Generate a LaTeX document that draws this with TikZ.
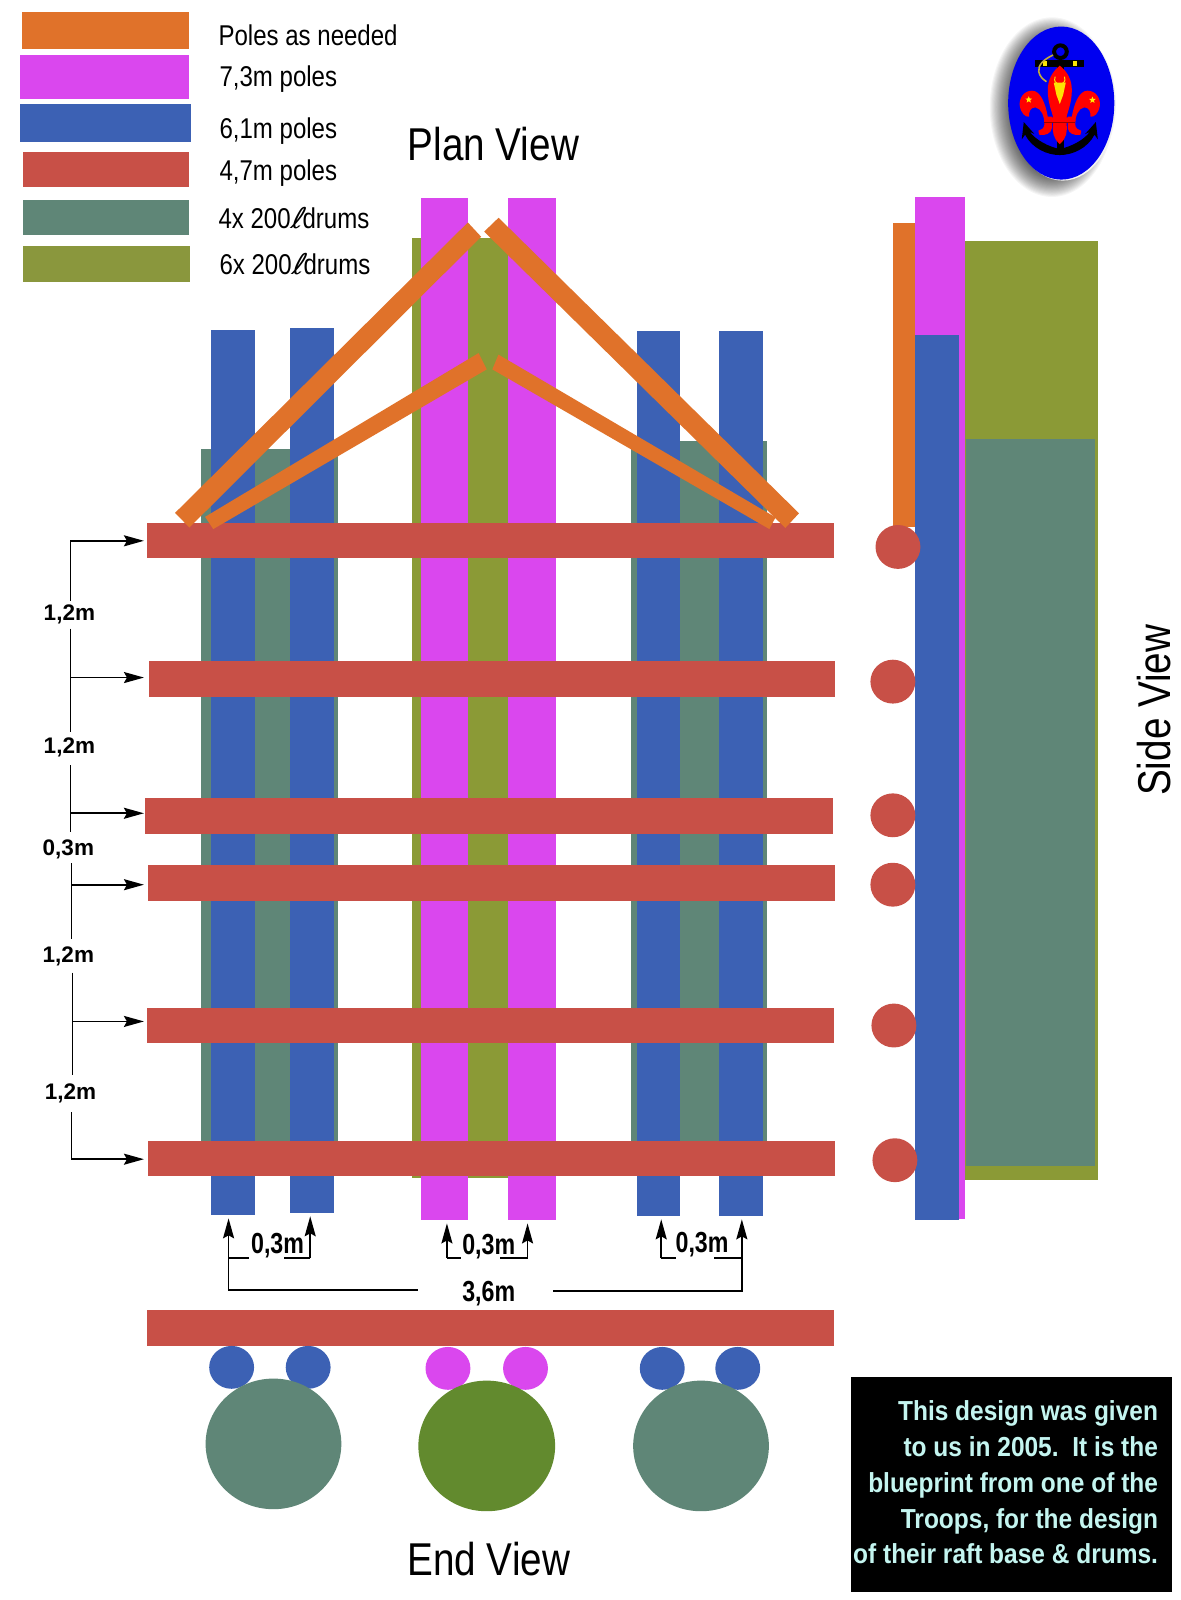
\documentclass[tikz,border=0pt]{standalone}
\usepackage{fontspec}
\usetikzlibrary{arrows.meta,shapes.geometric}
\setmainfont{Liberation Sans}
\newfontfamily\narrowf[FakeStretch=0.84]{Liberation Sans}
\newfontfamily\narrowb[FakeStretch=0.80,BoldFont={Liberation Sans Bold}]{Liberation Sans}
\newfontfamily\notef[FakeStretch=0.89,BoldFont={Liberation Sans Bold}]{Liberation Sans}
\newfontfamily\litref[FakeSlant=0.3,FakeStretch=1.0]{DejaVu Sans}
\definecolor{cor}{HTML}{E0722A}
\definecolor{cma}{HTML}{DA47EE}
\definecolor{cbl}{HTML}{3C61B4}
\definecolor{cre}{HTML}{C85047}
\definecolor{cte}{HTML}{5F8677}
\definecolor{col}{HTML}{8B9A36}
\definecolor{cgr}{HTML}{628A2E}
\definecolor{ccy}{HTML}{C4F5F0}
\newcommand\rectn[6]{%
  \pgfmathsetmacro\rw{(#5-#3)*1.02}\pgfmathsetmacro\rh{(#6-#4)*1.02}%
  \pgfmathsetmacro\rx{(#3+#5)/2}\pgfmathsetmacro\ry{(#4+#6)/2}%
  \node[polerect,fill=#2,minimum width=\rw pt,minimum height=\rh pt] (#1) at (\rx,\ry) {};}
\newcommand\ovaln[6]{\node[ovalshape,fill=#2,minimum width=#5*2.04pt,minimum height=#6*2.04pt] (#1) at (#3,#4) {};}
\newcommand\petal{(262,350) .. controls (255,310) and (240,272) .. (215,272) .. controls (190,272) and (175,295) .. (178,318) .. controls (182,340) and (195,352) .. (206,350) .. controls (205,335) and (210,322) .. (225,322) .. controls (243,325) and (252,350) .. (252,372) .. controls (252,385) and (242,390) .. (234,392) -- (236,404) .. controls (255,408) and (272,400) .. (274,385) -- (274,350) -- cycle}
\newcommand\halffleur{(298,197) .. controls (275,215) and (262,240) .. (262,270) .. controls (262,310) and (275,335) .. (278,352) -- (278,370) .. controls (275,395) and (278,415) .. (298,432) -- cycle}
\newcommand\halfanchor{(298,447) .. controls (265,440) and (225,420) .. (208,395) -- (222,402) -- (190,366) -- (184,418) -- (194,404) .. controls (215,445) and (260,465) .. (298,465) -- cycle}
\tikzset{
  polerect/.style={rectangle,draw=none,inner sep=0pt,outer sep=0pt},
  ovalshape/.style={ellipse,draw=none,inner sep=0pt,outer sep=0pt},
  legendtext/.style={font=\narrowf\fontsize{28.6}{30}\selectfont,anchor=base west,inner sep=0pt},
  titletext/.style={font=\narrowf\fontsize{46}{50}\selectfont,anchor=base,inner sep=0pt},
  sidelabel/.style={font=\fontseries{b}\fontsize{22.5}{24}\selectfont,inner sep=0pt},
  dimlabel/.style={font=\narrowb\bfseries\fontsize{29}{30}\selectfont,inner sep=0pt},
  dimline/.style={draw=black,line width=1.8pt},
  dimarrow/.style={draw=black,line width=1.8pt,-{Stealth[length=20pt,width=11pt,inset=3pt]}},
  strut/.style={fill=cor,draw=none},
  noteline/.style={font=\notef\bfseries\fontsize{27.5}{30}\selectfont,text=ccy,anchor=base east,inner sep=0pt}
}
\begin{document}
\begin{tikzpicture}[x=1.02pt,y=-1.02pt]
\useasboundingbox (0,0) rectangle (1156.4,1568);
\fill[white] (0,0) rectangle (1156.4,1568);
% legend
\rectn{lor}{cor}{22}{12}{185}{48}
\rectn{lma}{cma}{20}{54}{185}{97}
\rectn{lbl}{cbl}{20}{102}{187}{139}
\rectn{lre}{cre}{23}{149}{185}{183}
\rectn{lte}{cte}{23}{196}{185}{230}
\rectn{lol}{col!90!gray}{23}{241}{186}{276}
\node[legendtext] (t1) at (214,45) {Poles as needed};
\node[legendtext] (t2) at (215,85) {7,3m poles};
\node[legendtext] (t3) at (215,136) {6,1m poles};
\node[legendtext] (t4) at (215,177) {4,7m poles};
\node[legendtext] (t5) at (214,224) {4x 200{\litref ℓ}drums};
\node[legendtext] (t6) at (215,269) {6x 200{\litref ℓ}drums};
\node[titletext] (plan) at (483.5,157) {Plan View};
\node[titletext] (endv) at (479,1543.5) {End View};
\node[titletext,rotate=90] (sidev) at (1147,696) {Side View};
% plan view
\rectn{dl}{cte}{197}{440}{331}{1120}
\rectn{dr}{cte}{618}{432}{752}{1118}
\rectn{dc}{col}{404}{233}{505}{1154}
\rectn{b1}{cbl}{207}{323}{250}{1191}
\rectn{b2}{cbl}{284}{321}{327}{1189}
\rectn{b3}{cbl}{624}{324}{666}{1192}
\rectn{b4}{cbl}{705}{324}{748}{1192}
\rectn{m1}{cma}{413}{194}{459}{1196}
\rectn{m2}{cma}{498}{194}{545}{1196}
\rectn{r1}{cre}{144}{513}{817}{547}
\rectn{r2}{cre}{146}{648}{818}{683}
\rectn{r3}{cre}{142}{782}{816}{817}
\rectn{r4}{cre}{145}{848}{818}{883}
\rectn{r5}{cre}{144}{988}{817}{1022}
\rectn{r6}{cre}{145}{1118}{818}{1152}
\rectn{r7}{cre}{144}{1284}{817}{1319}
% struts
\fill[strut] (171.6,502.6) -- (458.5,218) -- (471.5,232) -- (185.6,517) -- cycle;
\fill[strut] (201,506.5) -- (469,346) -- (477,362) -- (209,518.5) -- cycle;
\fill[strut] (488.6,213.4) -- (783,503) -- (769.6,517.4) -- (474.5,227) -- cycle;
\fill[strut] (488.5,347.5) -- (760,507) -- (754,518.5) -- (482.5,362) -- cycle;
% side view
\rectn{so}{cor}{875}{219}{898}{516}
\rectn{sm}{cma}{897}{193}{946}{1195}
\rectn{sb}{cbl}{897}{328}{940}{1196}
\rectn{sd}{col}{946}{236}{1076}{1156}
\rectn{st}{cte}{947}{430}{1073}{1143}
\ovaln{c1}{cre}{880}{536}{22}{21.5}
\ovaln{c2}{cre}{875}{668}{22}{21.5}
\ovaln{c3}{cre}{875}{799}{22}{21.5}
\ovaln{c4}{cre}{875}{867}{22}{21.5}
\ovaln{c5}{cre}{876}{1005}{22}{21.5}
\ovaln{c6}{cre}{877}{1137}{22}{21.5}
% end view
\ovaln{e1}{cbl}{227}{1340}{22}{21}
\ovaln{e2}{cbl}{302}{1340}{22}{21}
\ovaln{e3}{cma}{439}{1341}{22}{21}
\ovaln{e4}{cma}{515}{1341}{22}{21}
\ovaln{e5}{cbl}{649}{1341}{22}{21}
\ovaln{e6}{cbl}{723}{1341}{22}{21}
\ovaln{d1}{cte}{268}{1415}{66.5}{64}
\ovaln{d2}{cgr}{477}{1417}{67}{64}
\ovaln{d3}{cte}{687}{1417}{66.5}{64}
% left dimensions
\node[sidelabel] (a1) at (68,602.5) {1,2m};
\node[sidelabel] (a2) at (68,732.5) {1,2m};
\node[sidelabel] (a3) at (67,832.5) {0,3m};
\node[sidelabel] (a4) at (67,937.5) {1,2m};
\node[sidelabel] (a5) at (69,1071.5) {1,2m};
\coordinate (p1) at (69,530);
\coordinate (p2) at (69,664);
\coordinate (p3) at (69,797);
\coordinate (p4) at (70,867);
\coordinate (p5) at (71,1001);
\coordinate (p6) at (70,1136);
\draw[dimline] (p1 |- a1.north) ++(0,-4) -- (p1);
\draw[dimarrow,shorten >=3pt] (p1) -- (p1 -| r1.west);
\draw[dimline] (p2 |- a1.south) ++(0,4) -- ++(0,101);
\draw[dimarrow,shorten >=5pt] (p2) -- (p2 -| r2.west);
\draw[dimline] (p3 |- a2.south) ++(0,8) -- ++(0,65);
\draw[dimarrow,shorten >=1pt] (p3) -- (p3 -| r3.west);
\draw[dimline] (p4 |- a3.south) ++(0,4) -- ++(0,74);
\draw[dimarrow,shorten >=4pt] (p4) -- (p4 -| r4.west);
\draw[dimline] (p5 |- a4.south) ++(0,6) -- ++(0,100);
\draw[dimarrow,shorten >=3pt] (p5) -- (p5 -| r5.west);
\draw[dimline] (p6 |- a5.south) ++(0,9) -- (p6);
\draw[dimarrow,shorten >=4pt] (p6) -- (p6 -| r6.west);
% bottom dimensions
\node[dimlabel] (g1) at (272,1220.5) {0,3m};
\node[dimlabel] (g2) at (479,1221.5) {0,3m};
\node[dimlabel] (g3) at (688,1219.5) {0,3m};
\node[dimlabel] (g4) at (479,1267.5) {3,6m};
\coordinate (q1) at (224,1233);
\coordinate (q2) at (304,1233);
\coordinate (q3) at (438,1233);
\coordinate (q4) at (517,1233);
\coordinate (q5) at (648,1233);
\coordinate (q6) at (727,1233);
\coordinate (ql) at (224,1264);
\coordinate (qr) at (727,1265);
\draw[dimarrow,shorten >=3pt] (q1) -- (q1 |- b1.south);
\draw[dimarrow,shorten >=3pt] (q2) -- (q2 |- b2.south);
\draw[dimarrow,shorten >=3pt] (q3) -- (q3 |- m1.south);
\draw[dimarrow,shorten >=3pt] (q4) -- (q4 |- m2.south);
\draw[dimarrow,shorten >=3pt] (q5) -- (q5 |- b3.south);
\draw[dimarrow,shorten >=3pt] (q6) -- (q6 |- b4.south);
\draw[dimline] (q1) -- ++(20,0);
\draw[dimline] (q2) -- ++(-26,0);
\draw[dimline] (q3) -- ++(14,0);
\draw[dimline] (q4) -- ++(-27,0);
\draw[dimline] (q5) -- ++(14,0);
\draw[dimline] (q6) -- ++(-27,0);
\draw[dimline] (q1) -- (ql) -- (410,1264);
\draw[dimline] (q6) -- (qr) -- (542,1265);
% note box
\rectn{box}{black}{834}{1349}{1149}{1560}
\node[noteline] (n1) at (1135,1392.5) {This design was given};
\node[noteline] (n2) at (1135,1427.5) {to us in 2005.\ \ It is the};
\node[noteline] (n3) at (1135,1462.5) {blueprint from one of the};
\node[noteline] (n4) at (1135,1497.5) {Troops, for the design};
\node[noteline] (n5) at (1135,1532.5) {of their raft base \& drums.};
% logo shadow
\foreach \s in {0,1,...,20}{
  \fill[black,opacity=0.04] (1031,105) ellipse ({40+\s*1.05} and {67+\s*1.05});
}
\fill[white!90!gray] (1041.5,102) ellipse (52 and 75);
\fill[blue!94!black] (1040,101) ellipse (52 and 75);
% logo emblem (coordinates of a 3x crop)
\begin{scope}[shift={(941.2,0)},x=.3333pt,y=-.3333pt]
  \draw[black,line width=4pt] (300,155) circle (19);
  \fill[black] (225,180) -- (372,180) -- (372,200) -- (225,200) -- cycle;
  \fill[black] (289,190) rectangle (310,450);
  \fill[yellow!90!orange] (247,182) rectangle (259,198);
  \fill[yellow!90!orange] (337,182) rectangle (349,198);
  \draw[brown!50!yellow!70!gray,line width=1.6pt] (278,165) .. controls (250,178) and (232,195) .. (235,215) .. controls (238,230) and (248,238) .. (258,245);
  \fill[black] \halfanchor;
  \fill[red] \petal;
  \fill[red] \halffleur;
\end{scope}
\begin{scope}[shift={(1136,0)},x=-.3333pt,y=-.3333pt]
  \fill[black] \halfanchor;
  \fill[red] \petal;
  \fill[red] \halffleur;
\end{scope}
\begin{scope}[shift={(941.2,0)},x=.3333pt,y=-.3333pt]
  \fill[red,rounded corners=2pt] (252,352) rectangle (345,368);
  \draw[red!60!black,line width=.5pt] (252,368) -- (345,368);
  \fill[yellow!85!orange] (280,248) -- (316,248) -- (308,285) -- (298,312) -- (288,285) -- cycle;
  \draw[yellow!85!orange,line width=1pt] (290,250) .. controls (280,245) and (282,235) .. (284,230);
  \draw[yellow!85!orange,line width=1pt] (306,250) .. controls (316,245) and (314,235) .. (312,230);
  \node[star,star points=5,star point ratio=2.3,fill=yellow,inner sep=0pt,minimum size=7pt] (s1) at (205,299) {};
  \node[star,star points=5,star point ratio=2.3,fill=yellow,inner sep=0pt,minimum size=7pt] (s2) at (396,300) {};
\end{scope}
\end{tikzpicture}
\end{document}
